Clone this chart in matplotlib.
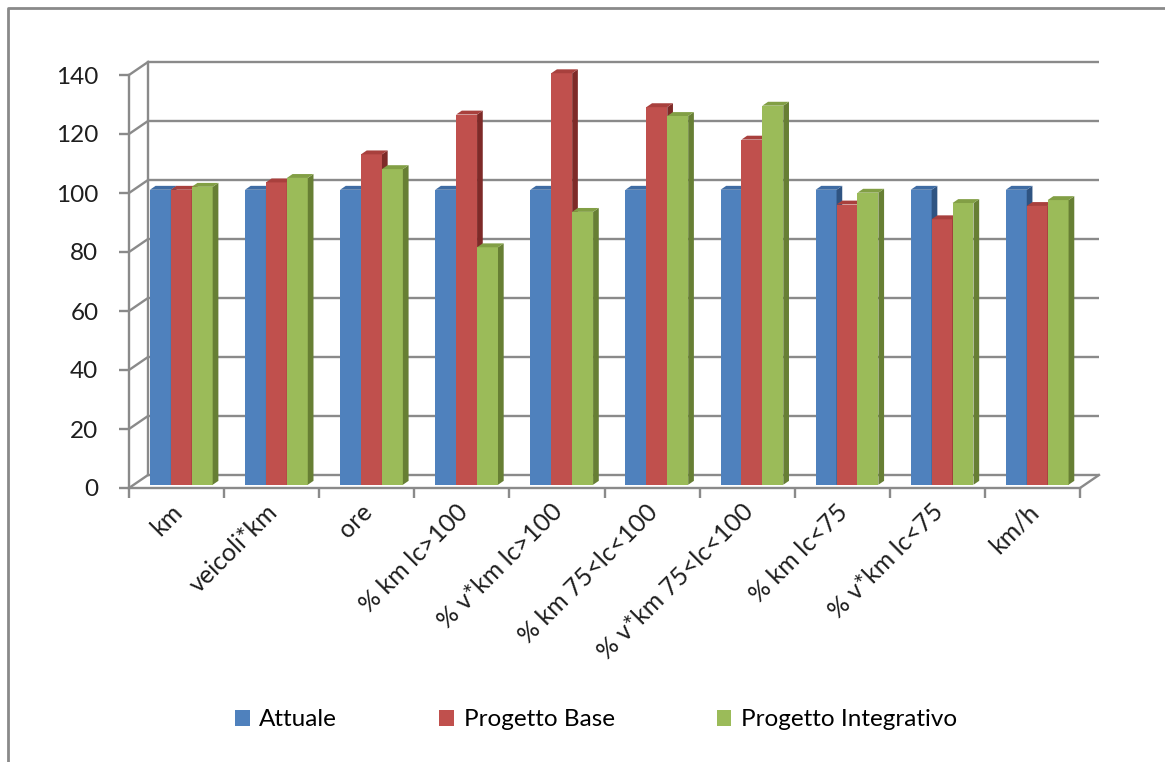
import matplotlib
matplotlib.use('Agg')
from matplotlib import pyplot as plt
from matplotlib.patches import Polygon, Patch
from matplotlib.lines import Line2D
from matplotlib.transforms import ScaledTranslation

plt.rcParams['font.family'] = ['Lato', 'DejaVu Sans']

categories = ['km', 'veicoli*km', 'ore', '% km lc>100', '% v*km lc>100',
              '% km 75<lc<100', '% v*km 75<lc<100', '% km lc<75',
              '% v*km lc<75', 'km/h']
series_names = ['Attuale', 'Progetto Base', 'Progetto Integrativo']
attuale = [100, 100, 100, 100, 100, 100, 100, 100, 100, 100]
progetto_base = [100, 102.5, 112, 125.5, 139.5, 128, 117, 95, 90, 94.5]
progetto_integrativo = [101, 104, 107, 80.5, 92.5, 125, 128.5, 99, 95.5, 96.5]
y_ticks = [0, 20, 40, 60, 80, 100, 120, 140]

front_colors = ['#4f81bd', '#c0504d', '#9bbb59']
top_colors = ['#3f6ca3', '#a8403d', '#829f45']
side_colors = ['#2f5482', '#7e2a28', '#677f34']
grid_color = '#8a8a8a'
text_color = '#1e1e1e'
fsize = 17.5

W, H = 1165, 762
fig = plt.figure(figsize=(W / 100, H / 100), dpi=100)

# pixel layout of the plot box (front axis)
x0_px, y0_px = 129, 488
px_cat = 95.1
px_unit = 2.95
left_px, right_px, top_px = 129, 1105, 55
ax = fig.add_axes([left_px / W, (H - y0_px) / H,
                   (right_px - left_px) / W, (y0_px - top_px) / H])
ax.set_xlim(0, (right_px - left_px) / px_cat)
ax.set_ylim(0, (y0_px - top_px) / px_unit)

# depth of the 3d box in data units
DX = 19 / px_cat
DY = 13 / px_unit
n = len(categories)

for s in ['top', 'right']:
    ax.spines[s].set_visible(False)
for s in ['left', 'bottom']:
    ax.spines[s].set_color(grid_color)
    ax.spines[s].set_linewidth(1.7)
ax.spines['left'].set_bounds(0, 140)
ax.spines['bottom'].set_bounds(0, n)

ax.set_yticks(y_ticks)
ax.set_yticklabels([str(v) for v in y_ticks])
ax.set_xticks(range(n + 1))
ax.set_xticklabels([])
ax.tick_params(axis='both', colors=grid_color, width=1.7, length=7,
               labelcolor=text_color, labelsize=fsize)
ax.tick_params(axis='y', pad=15)

# back wall: gridlines, left edge and floor
lw = 1.7
for v in y_ticks:
    ax.plot([DX, n + DX], [v + DY, v + DY], color=grid_color, lw=lw,
            solid_capstyle='butt', clip_on=False, zorder=1)
    ax.plot([0, DX], [v, v + DY], color=grid_color, lw=lw, clip_on=False,
            zorder=1)
ax.plot([DX, DX], [DY, 140 + DY], color=grid_color, lw=lw, clip_on=False,
        zorder=1)
ax.plot([n, n + DX], [0, DY], color=grid_color, lw=lw, clip_on=False,
        zorder=1)

# 3d columns
bar_w = 0.22
d_front = 0.25
d_back = 0.55
bd = d_back - d_front
data = [attuale, progetto_base, progetto_integrativo]
for i in range(n):
    for j, vals in enumerate(data):
        xc = i + 0.5 + d_front * DX + (j - 1) * bar_w
        base = d_front * DY
        v = vals[i]
        ax.bar(xc, v, bar_w, bottom=base, color=front_colors[j],
               zorder=3 + i * 3 + j, clip_on=False)
        xl = xc - bar_w / 2
        xr = xc + bar_w / 2
        top = base + v
        ox, oy = bd * DX, bd * DY
        ax.add_patch(Polygon([(xr, base), (xr + ox, base + oy),
                              (xr + ox, top + oy), (xr, top)],
                             closed=True, facecolor=side_colors[j],
                             edgecolor='none', zorder=3 + i * 3 + j,
                             clip_on=False))
        ax.add_patch(Polygon([(xl, top), (xl + ox, top + oy),
                              (xr + ox, top + oy), (xr, top)],
                             closed=True, facecolor=top_colors[j],
                             edgecolor='none', zorder=3 + i * 3 + j,
                             clip_on=False))

# category labels
off = ScaledTranslation(2 / 100, -20 / 100, fig.dpi_scale_trans)
for i, name in enumerate(categories):
    ax.text(i + 0.5, 0, name, rotation=45, ha='right', va='center',
            rotation_mode='anchor', fontsize=fsize + 0.5, color=text_color,
            transform=ax.transData + off)

# legend
handles = [Patch(facecolor=c, edgecolor='none') for c in front_colors]
fig.legend(handles, series_names, loc='center', ncol=3,
           bbox_to_anchor=(596 / W, 1 - 720 / H), frameon=False,
           fontsize=fsize, handlelength=0.6, handleheight=0.6,
           handletextpad=0.4, columnspacing=4.2)

# outer chart border
fig.add_artist(Line2D([8 / W, 8 / W, 1.0], [0.0, 1 - 8 / H, 1 - 8 / H],
                      transform=fig.transFigure, color=grid_color, lw=2.0))

fig.savefig('out.png', dpi=100, facecolor='white')
